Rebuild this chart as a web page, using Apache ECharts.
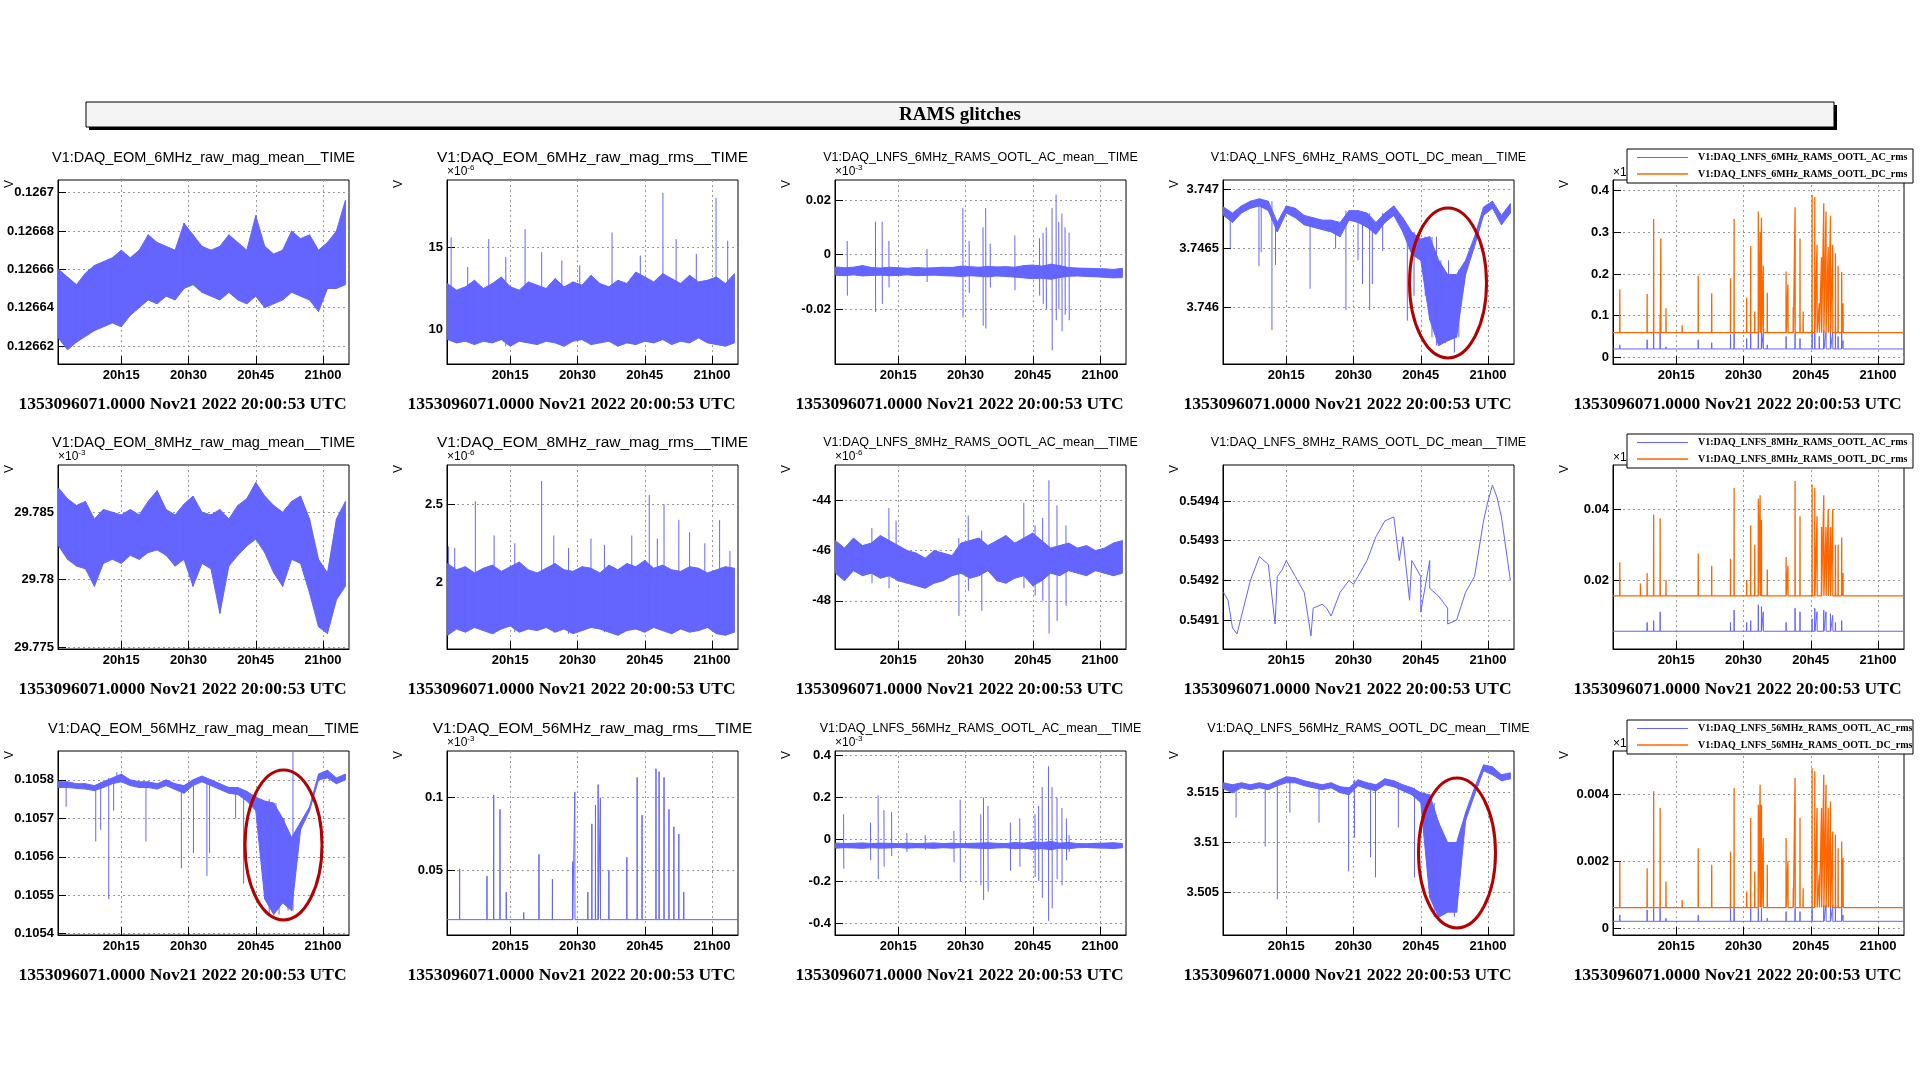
<!DOCTYPE html>
<html><head><meta charset="utf-8">
<script src="https://cdn.jsdelivr.net/npm/echarts@6/dist/echarts.min.js"></script>
<style>html,body{margin:0;padding:0;background:#fff}#c{width:1920px;height:1080px}</style>
</head><body><div id="c"></div>
<script>
// ---- time axis (minutes after 20:00 UTC) ----
const timeTicks = [15, 30, 45, 60];
const timeLabels = ['20h15', '20h30', '20h45', '21h00'];
const footerText = '1353096071.0000 Nov21 2022 20:00:53 UTC';
const mainTitle = 'RAMS glitches';
const titles = [
 'V1:DAQ_EOM_6MHz_raw_mag_mean__TIME','V1:DAQ_EOM_6MHz_raw_mag_rms__TIME','V1:DAQ_LNFS_6MHz_RAMS_OOTL_AC_mean__TIME','V1:DAQ_LNFS_6MHz_RAMS_OOTL_DC_mean__TIME','',
 'V1:DAQ_EOM_8MHz_raw_mag_mean__TIME','V1:DAQ_EOM_8MHz_raw_mag_rms__TIME','V1:DAQ_LNFS_8MHz_RAMS_OOTL_AC_mean__TIME','V1:DAQ_LNFS_8MHz_RAMS_OOTL_DC_mean__TIME','',
 'V1:DAQ_EOM_56MHz_raw_mag_mean__TIME','V1:DAQ_EOM_56MHz_raw_mag_rms__TIME','V1:DAQ_LNFS_56MHz_RAMS_OOTL_AC_mean__TIME','V1:DAQ_LNFS_56MHz_RAMS_OOTL_DC_mean__TIME',''];
const legendNames = [
 ['V1:DAQ_LNFS_6MHz_RAMS_OOTL_AC_rms','V1:DAQ_LNFS_6MHz_RAMS_OOTL_DC_rms'],
 ['V1:DAQ_LNFS_8MHz_RAMS_OOTL_AC_rms','V1:DAQ_LNFS_8MHz_RAMS_OOTL_DC_rms'],
 ['V1:DAQ_LNFS_56MHz_RAMS_OOTL_AC_rms','V1:DAQ_LNFS_56MHz_RAMS_OOTL_DC_rms']];
const exponents = ['', '-6', '-3', '', '', '-3', '-6', '-6', '', '', '', '-3', '-3', '', ''];
const yTicks = [
 [0.12662,0.12664,0.12666,0.12668,0.1267],[10,15],[-0.02,0,0.02],[3.746,3.7465,3.747],[0,0.1,0.2,0.3,0.4],
 [29.775,29.78,29.785],[2,2.5],[-48,-46,-44],[0.5491,0.5492,0.5493,0.5494],[0.02,0.04],
 [0.1054,0.1055,0.1056,0.1057,0.1058],[0.05,0.1],[-0.4,-0.2,0,0.2,0.4],[3.505,3.51,3.515],[0,0.002,0.004]];

// ---- values, sampled every 2 min (t = 1,3,...,65): upper/lower envelope ----
const p1Hi=[0.126660,0.126656,0.126652,0.126658,0.126662,0.126664,0.126666,0.126670,0.126666,0.126670,0.126678,0.126674,0.126672,0.126670,0.126684,0.126678,0.126672,0.126670,0.126672,0.126678,0.126674,0.126670,0.126688,0.126672,0.126668,0.126670,0.126680,0.126676,0.126678,0.126670,0.126674,0.126680,0.126696];
const p1Lo=[0.126624,0.126618,0.126622,0.126625,0.126628,0.126630,0.126632,0.126630,0.126636,0.126640,0.126644,0.126642,0.126646,0.126644,0.126650,0.126652,0.126648,0.126646,0.126644,0.126648,0.126644,0.126642,0.126646,0.126640,0.126642,0.126644,0.126648,0.126646,0.126644,0.126638,0.126650,0.126650,0.126652];
const p2Hi=[12.8,12.4,12.6,13.0,12.5,12.8,13.2,12.6,12.4,12.9,12.7,12.5,13.1,12.6,12.9,12.7,13.3,12.8,12.6,13.0,12.8,13.5,13.2,12.9,13.4,13.1,12.8,13.3,12.9,13.0,13.2,12.8,13.4];
const p2Lo=[9.4,9.2,9.3,9.1,9.3,9.2,9.4,9.0,9.3,9.2,9.1,9.3,9.2,9.0,9.3,9.4,9.1,9.2,9.3,9.0,9.2,9.1,9.3,9.2,9.4,9.1,9.3,9.2,9.5,9.2,9.1,9.0,9.2];
const p2Peaks=[[1.8,15.6],[5.5,13.8],[10.2,15.5],[14,14.4],[18.3,16.1],[22,14.7],[26.5,14.2],[30.5,13.9],[37.7,15.9],[44,14.5],[49.05,18.3],[52,15.5],[56.5,14.6],[60.9,18.0],[63.5,15.4]];
const p3Hi=[-0.0045,-0.0048,-0.0046,-0.0040,-0.0047,-0.0049,-0.0046,-0.0048,-0.0050,-0.0047,-0.0049,-0.0048,-0.0046,-0.0047,-0.0042,-0.0044,-0.0046,-0.0043,-0.0045,-0.0044,-0.0046,-0.0040,-0.0038,-0.0042,-0.0035,-0.0040,-0.0047,-0.0049,-0.0050,-0.0051,-0.0052,-0.0054,-0.0050];
const p3Lo=[-0.0075,-0.0077,-0.0074,-0.0078,-0.0076,-0.0075,-0.0077,-0.0076,-0.0074,-0.0077,-0.0076,-0.0075,-0.0077,-0.0078,-0.0080,-0.0077,-0.0079,-0.0081,-0.0078,-0.0080,-0.0082,-0.0085,-0.0088,-0.0086,-0.0090,-0.0084,-0.0079,-0.0078,-0.0080,-0.0081,-0.0083,-0.0085,-0.0084];
const p3Glitch=[[3.6,0.005,-0.015],[9.9,0.012,-0.021],[11.4,0.012,-0.018],[12.9,0.005,-0.012],[21.4,0.002,-0.010],[29.4,0.017,-0.023],[30.8,0.005,-0.014],[33.9,0.010,-0.026],[34.5,0.017,-0.027],[35.5,0.004,-0.012],[41,0.007,-0.013],[46.5,0.006,-0.015],[47.3,0.008,-0.018],[48,0.010,-0.020],[49.3,0.017,-0.035],[50.2,0.022,-0.024],[50.8,0.012,-0.020],[51.5,0.015,-0.028],[52.2,0.010,-0.022],[53.1,0.008,-0.024]];
const p4Hi=[3.74685,3.74680,3.74686,3.74690,3.74692,3.74690,3.74672,3.74686,3.74684,3.74678,3.74676,3.74674,3.74674,3.74672,3.74682,3.74682,3.74680,3.74672,3.74680,3.74686,3.74676,3.74664,3.74658,3.74660,3.74640,3.74628,3.74628,3.74640,3.74660,3.74685,3.74690,3.74678,3.74688];
const p4Lo=[3.74678,3.74672,3.74680,3.74684,3.74686,3.74682,3.74664,3.74680,3.74676,3.74670,3.74668,3.74666,3.74664,3.74660,3.74674,3.74672,3.74668,3.74662,3.74672,3.74678,3.74664,3.74645,3.74640,3.74590,3.74568,3.74572,3.74575,3.74628,3.74652,3.74678,3.74684,3.74670,3.74680];
const p4Peaks=[[2.5,3.7465],[8.9,3.74635],[9.4,3.74647],[11.8,3.74581],[12.6,3.74636],[20.3,3.74616],[26,3.74650],[28.3,3.74598],[31,3.74640],[32,3.74620],[33.6,3.74598],[34.2,3.74620],[36.5,3.74648],[42,3.74589],[43.5,3.74610],[46,3.74610],[47.5,3.74575],[48.5,3.74660],[49.5,3.74600],[50.5,3.74570],[51.2,3.74640],[52.5,3.74562],[53.5,3.74632]];
const acBase=[0.020,0.0055,0.00021];
const dcBase=[0.059,0.0155,0.00062];
const ac1Peaks=[[2.4,0.03],[8.5,0.042],[9.95,0.058],[11.4,0.058],[12.7,0.025],[19.9,0.042],[22.9,0.035],[27.1,0.055],[27.9,0.058],[30.7,0.045],[31.6,0.058],[33.3,0.06],[34,0.06],[34.4,0.058],[35.3,0.03],[39.5,0.05],[41.5,0.058],[42.6,0.045],[45.3,0.06],[45.9,0.058],[46.9,0.05],[47.9,0.065],[48.4,0.06],[49.4,0.068],[49.9,0.06],[50.5,0.058],[51.1,0.05],[51.9,0.058],[52.2,0.04]];
const dc1Peaks=[[2.4,0.163],[8.5,0.152],[9.95,0.332],[11.4,0.1],[11.55,0.286],[12.7,0.118],[16.3,0.077],[19.9,0.196],[22.9,0.154],[27.1,0.19],[27.9,0.332],[30.7,0.143],[31.6,0.267],[32.5,0.11],[33.3,0.35],[33.7,0.3],[34.0,0.335],[34.4,0.22],[35.3,0.155],[39.5,0.206],[39.9,0.175],[41.1,0.12],[41.5,0.36],[42.6,0.285],[43.3,0.11],[45.3,0.39],[45.9,0.385],[46.4,0.27],[46.9,0.13],[47.4,0.24],[47.9,0.37],[48.4,0.35],[48.9,0.265],[49.4,0.34],[49.9,0.27],[50.5,0.25],[51.1,0.22],[51.9,0.205],[52.2,0.13]];
const p6Hi=[29.7868,29.7860,29.7855,29.7858,29.7845,29.7852,29.7850,29.7848,29.7852,29.7848,29.7858,29.7866,29.7852,29.7848,29.7856,29.7862,29.7850,29.7848,29.7852,29.7845,29.7855,29.7860,29.7872,29.7862,29.7855,29.7850,29.7858,29.7862,29.7845,29.7815,29.7805,29.7845,29.7858];
const p6Lo=[29.7825,29.7815,29.7810,29.7808,29.7795,29.7812,29.7815,29.7812,29.7818,29.7815,29.7820,29.7822,29.7818,29.7810,29.7815,29.7795,29.7812,29.7808,29.7775,29.7810,29.7818,29.7825,29.7830,29.7820,29.7805,29.7795,29.7815,29.7812,29.7790,29.7765,29.7760,29.7785,29.7795];
const p7Hi=[2.12,2.08,2.10,2.06,2.09,2.11,2.07,2.10,2.13,2.08,2.06,2.09,2.12,2.08,2.07,2.10,2.09,2.06,2.11,2.08,2.12,2.10,2.14,2.09,2.11,2.08,2.07,2.10,2.09,2.06,2.08,2.10,2.09];
const p7Lo=[1.66,1.70,1.68,1.71,1.69,1.67,1.70,1.72,1.68,1.70,1.69,1.71,1.68,1.70,1.67,1.69,1.71,1.70,1.68,1.66,1.69,1.70,1.68,1.71,1.69,1.67,1.70,1.68,1.69,1.71,1.67,1.66,1.68];
const p7Peaks=[[1.2,2.23],[2.6,2.22],[7.2,2.52],[11.4,2.30],[16,2.25],[22,2.65],[24.7,2.30],[28,2.22],[33,2.28],[36,2.24],[42.1,2.30],[46,2.56],[47.8,2.28],[49.3,2.50],[52.6,2.40],[55,2.32],[58.4,2.25],[61.7,2.40],[64,2.2]];
const p8Hi=[-45.6,-45.9,-45.5,-45.8,-45.7,-45.4,-45.6,-45.8,-46.0,-46.1,-46.3,-46.0,-46.1,-46.2,-45.7,-45.6,-45.5,-45.8,-45.6,-45.4,-45.7,-45.5,-45.3,-45.6,-45.9,-45.8,-45.7,-45.9,-45.8,-46.0,-45.9,-45.7,-45.6];
const p8Lo=[-46.9,-47.2,-46.8,-47.0,-46.9,-47.1,-47.0,-47.2,-47.3,-47.4,-47.5,-47.3,-47.2,-47.0,-46.9,-47.1,-47.0,-46.8,-47.2,-47.3,-47.1,-47.0,-47.4,-47.2,-46.9,-47.0,-46.8,-46.9,-47.0,-46.8,-46.9,-47.0,-46.9];
const p8Glitch=[[9.1,-45.1,-47.3],[12.9,-44.3,-47.5],[14.5,-44.8,-47.2],[28.5,-45.5,-48.6],[30.6,-44.6,-47.6],[33.6,-45.2,-48.4],[43,-44.1,-47.5],[45.5,-45.0,-47.8],[47.2,-44.7,-48.0],[48.6,-43.2,-49.3],[50.4,-44.2,-48.8],[52.4,-45.0,-48.2]];
const p9Line=[0.549170,0.549080,0.549110,0.549200,0.549260,0.549240,0.549210,0.549250,0.549210,0.549170,0.549130,0.549140,0.549110,0.549170,0.549200,0.549210,0.549250,0.549310,0.549350,0.549360,0.549310,0.549250,0.549210,0.549250,0.549160,0.549130,0.549100,0.549170,0.549210,0.549350,0.549440,0.549360,0.549200];
const p9Peaks=[[2,0.549150],[4,0.549065],[12.5,0.54909],[14,0.549225],[20.5,0.54906],[24,0.549130],[30,0.549190],[36,0.549330],[40.2,0.54925],[42.5,0.54915],[45,0.54912],[47,0.54918],[51,0.54909],[60,0.549400],[62,0.549410]];
const p10Hi=[0.105795,0.105795,0.105790,0.105790,0.105785,0.105795,0.105805,0.105815,0.105800,0.105795,0.105795,0.105790,0.105800,0.105790,0.105785,0.105800,0.105810,0.105800,0.105790,0.105780,0.105780,0.105770,0.105755,0.105745,0.105740,0.105700,0.105650,0.105690,0.105730,0.105815,0.105825,0.105805,0.105815];
const p10Lo=[0.105780,0.105780,0.105778,0.105776,0.105772,0.105780,0.105790,0.105795,0.105785,0.105780,0.105780,0.105776,0.105785,0.105775,0.105765,0.105785,0.105795,0.105785,0.105775,0.105765,0.105762,0.105745,0.105720,0.105490,0.105450,0.105480,0.105460,0.105670,0.105720,0.105800,0.105805,0.105790,0.105800];
const p10Peaks=[[2.7,0.10573],[9.3,0.10564],[10.4,0.10567],[12.2,0.10549],[13.3,0.10572],[14,0.10582],[20.5,0.10564],[28.4,0.10557],[31.1,0.10561],[34.1,0.10555],[34.7,0.10561],[40.5,0.10570],[42.3,0.10553],[46.2,0.10560],[48,0.10575],[48.5,0.10548],[49.5,0.10570],[50.2,0.10545],[51.3,0.10562],[52.2,0.10546],[53.3,0.10620]];
const p11Base=0.016;
const p11Peaks=[[3.7,0.051],[9.8,0.046],[11.3,0.102],[12.7,0.092],[14.1,0.035],[18,0.021],[21.4,0.061],[24.4,0.044],[28.9,0.056],[29.4,0.104],[32.3,0.035],[33.2,0.082],[34,0.095],[34.6,0.109],[35.1,0.1],[37,0.05],[41,0.059],[43.3,0.114],[44.4,0.088],[47.5,0.12],[48.2,0.118],[49.3,0.114],[50.4,0.092],[51.5,0.08],[52.6,0.075],[53.7,0.035]];
const p12Hi=[-0.018,-0.020,-0.019,-0.017,-0.020,-0.018,-0.019,-0.021,-0.018,-0.020,-0.019,-0.017,-0.020,-0.018,-0.021,-0.019,-0.018,-0.016,-0.019,-0.020,-0.015,-0.018,-0.012,-0.016,-0.010,-0.018,-0.015,-0.020,-0.021,-0.019,-0.018,-0.016,-0.020];
const p12Lo=[-0.042,-0.040,-0.041,-0.043,-0.040,-0.042,-0.041,-0.039,-0.042,-0.040,-0.041,-0.043,-0.040,-0.042,-0.039,-0.041,-0.042,-0.044,-0.041,-0.040,-0.045,-0.042,-0.048,-0.044,-0.050,-0.042,-0.045,-0.040,-0.039,-0.041,-0.042,-0.044,-0.040];
const p12Glitch=[[2.8,0.12,-0.14],[8.8,0.08,-0.10],[10.5,0.21,-0.19],[11.8,0.14,-0.13],[13.5,0.13,-0.08],[16.9,0.03,-0.06],[21,0.02,-0.05],[27.4,0.04,-0.11],[28.8,0.19,-0.20],[33.4,0.12,-0.22],[34,0.20,-0.29],[35,0.16,-0.25],[40,0.08,-0.15],[42.1,0.10,-0.13],[45.5,0.12,-0.18],[46.3,0.16,-0.2],[47.1,0.25,-0.28],[48.5,0.35,-0.39],[49.3,0.25,-0.33],[50.4,0.20,-0.19],[51.5,0.15,-0.22],[52.5,0.10,-0.10],[53.1,0.02,-0.06]];
const p13Hi=[3.5160,3.5158,3.5160,3.5158,3.5160,3.5158,3.5162,3.5166,3.5165,3.5162,3.5160,3.5158,3.5160,3.5156,3.5155,3.5163,3.5160,3.5158,3.5164,3.5162,3.5158,3.5155,3.5150,3.5148,3.5120,3.5100,3.5100,3.5130,3.5155,3.5178,3.5176,3.5168,3.5170];
const p13Lo=[3.5154,3.5150,3.5155,3.5153,3.5155,3.5153,3.5157,3.5160,3.5160,3.5157,3.5155,3.5153,3.5155,3.5150,3.5148,3.5157,3.5154,3.5152,3.5158,3.5156,3.5152,3.5148,3.5140,3.5045,3.5025,3.5030,3.5030,3.5122,3.5148,3.5172,3.5168,3.5162,3.5164];
const p13Peaks=[[3.8,3.5125],[10.3,3.5096],[13,3.5043],[15.8,3.5130],[22.3,3.5120],[28.9,3.5071],[30.2,3.5105],[33.8,3.5085],[34.9,3.5065],[40,3.5115],[43.6,3.5065],[46.5,3.5080],[48,3.5140],[50,3.5035],[51.5,3.5100],[52.5,3.5025],[53.5,3.5085]];
const ac3Peaks=[[2.4,0.0004],[8.5,0.00055],[9.95,0.0006],[11.4,0.0006],[12.7,0.0003],[19.9,0.0004],[27.1,0.0006],[27.9,0.0006],[31.6,0.0006],[33.3,0.0006],[34,0.0006],[35.3,0.0003],[39.5,0.0005],[41.5,0.0006],[42.6,0.0005],[45.3,0.0006],[47.9,0.0007],[48.4,0.0007],[49.4,0.00078],[49.9,0.0007],[50.5,0.0006],[51.9,0.0006],[52.2,0.0004]];
const dc3Peaks=[[2.4,0.002],[8.5,0.0018],[9.95,0.0041],[11.4,0.0036],[12.7,0.0014],[16.3,0.00085],[19.9,0.0024],[22.9,0.0019],[27.1,0.0023],[27.9,0.0042],[30.7,0.0011],[31.6,0.0033],[32.5,0.0017],[33.3,0.0037],[33.7,0.0043],[34.0,0.0037],[34.4,0.0027],[35.3,0.0019],[39.5,0.0027],[39.9,0.002],[41.1,0.0012],[41.5,0.0045],[42.6,0.0033],[43.3,0.0012],[45.3,0.0048],[45.9,0.0047],[46.4,0.0036],[46.9,0.0016],[47.4,0.0036],[47.9,0.0046],[48.4,0.0043],[48.9,0.0036],[49.4,0.0038],[49.9,0.0029],[50.5,0.0028],[51.1,0.0024],[51.9,0.0026],[52.2,0.0021]];
const ac2Peaks=[[8.5,0.008],[9.95,0.0085],[11.4,0.011],[27.1,0.008],[27.9,0.0115],[30.7,0.008],[31.6,0.0085],[33.3,0.013],[34,0.0125],[34.4,0.011],[39.5,0.008],[41.5,0.012],[42.6,0.011],[45.3,0.009],[45.9,0.012],[46.4,0.011],[47.9,0.0115],[48.4,0.011],[49.4,0.0105],[49.9,0.01],[50.5,0.008],[51.9,0.0085]];
const dc2Peaks=[[2.4,0.025],[7,0.019],[8.5,0.022],[9.95,0.0385],[11.4,0.0375],[12.7,0.02],[19.9,0.0275],[22.9,0.024],[27.1,0.026],[27.9,0.046],[30.7,0.02],[31.6,0.0355],[32.5,0.03],[33.3,0.043],[33.7,0.044],[34.0,0.037],[35.3,0.023],[39.5,0.0265],[39.9,0.024],[41.5,0.048],[42.6,0.038],[45.3,0.047],[45.9,0.046],[46.4,0.038],[47.4,0.035],[47.9,0.044],[48.4,0.035],[48.9,0.040],[49.4,0.035],[49.9,0.040],[50.5,0.03],[51.1,0.03],[51.9,0.032],[52.2,0.022]];

// ---- builders ----
const T0 = 0.88, T1 = 65.8;
const BLUE = '#6464ff', ORANGE = '#ff6600';
const sampleT = i => 1 + 2 * i;
function nearest(arr, t) { return arr[Math.max(0, Math.min(arr.length - 1, Math.round((t - 1) / 2)))]; }
function spikeSegs(hi, lo, peaks, glitch) {
  const pts = [];
  (peaks || []).forEach(p => { const from = p[1] > nearest(hi, p[0]) ? nearest(lo, p[0]) : nearest(hi, p[0]); pts.push([p[0], from], [p[0], p[1]], [p[0], '-']); });
  (glitch || []).forEach(g => { pts.push([g[0], g[1]], [g[0] + 0.04, g[2]], [g[0] + 0.04, '-']); });
  return pts.sort((a, b) => a[0] - b[0]);
}
function lineWithPeaks(vals, peaks) {
  const pts = vals.map((v, i) => [sampleT(i), v]);
  peaks.forEach(p => pts.push([p[0], p[1]]));
  return pts.sort((a, b) => a[0] - b[0]);
}
function spiky(level, peaks) {
  const pts = [[T0, level], [T1, level]];
  peaks.forEach(p => { pts.push([p[0] - 0.03, level], [p[0], p[1]], [p[0] + 0.03, level]); });
  return pts.sort((a, b) => a[0] - b[0]);
}
const panels = [
 {band:[p1Hi,p1Lo]}, {band:[p2Hi,p2Lo], peaks:p2Peaks}, {band:[p3Hi,p3Lo], glitch:p3Glitch}, {band:[p4Hi,p4Lo], peaks:p4Peaks},
 {lines:[[spiky(acBase[0],ac1Peaks),BLUE],[spiky(dcBase[0],dc1Peaks),ORANGE]]},
 {band:[p6Hi,p6Lo]}, {band:[p7Hi,p7Lo], peaks:p7Peaks}, {band:[p8Hi,p8Lo], glitch:p8Glitch}, {lines:[[lineWithPeaks(p9Line,p9Peaks),BLUE]]},
 {lines:[[spiky(acBase[1],ac2Peaks),BLUE],[spiky(dcBase[1],dc2Peaks),ORANGE]]},
 {band:[p10Hi,p10Lo], peaks:p10Peaks}, {lines:[[spiky(p11Base,p11Peaks),BLUE]]}, {band:[p12Hi,p12Lo], glitch:p12Glitch}, {band:[p13Hi,p13Lo], peaks:p13Peaks},
 {lines:[[spiky(acBase[2],ac3Peaks),BLUE],[spiky(dcBase[2],dc3Peaks),ORANGE]]}];
const yRange = [
 [0.1266106,0.1267066],[7.92,19.08],[-0.04,0.0273],[3.745524,3.747079],[-0.0161,0.4257],
 [29.77485,29.7885],[1.572,2.752],[-49.92,-42.59],[0.549027,0.549491],[0.00048,0.05253],
 [0.1053966,0.105875],[0.00544,0.1322],[-0.4574,0.4225],[3.50071,3.51919],[-0.0002,0.005308]];

// ---- layout ----
const colL = [58, 447, 835, 1223, 1613], rowT = [180, 465, 751], PW = 291, PH = 184;
const titleSize = [14.5, 15.5, 12.5, 12.5, 12];
const fmt = v => String(parseFloat(Number(v).toPrecision(8)));
const grids = [], xAxes = [], yAxes = [], series = [], graphics = [];
const lab = { color: '#000', fontFamily: 'Liberation Sans', fontWeight: 'bold', fontSize: 13 };

graphics.push({ type: 'rect', shape: { x: 89, y: 105, width: 1748, height: 25 }, style: { fill: '#000' }, silent: true });
graphics.push({ type: 'rect', shape: { x: 86, y: 102, width: 1748, height: 25 }, style: { fill: '#f4f4f4', stroke: '#000', lineWidth: 1 }, silent: true });
graphics.push({ type: 'text', x: 960, y: 115, style: { text: mainTitle, fill: '#000', font: 'bold 19px "Liberation Serif"', textAlign: 'center', textVerticalAlign: 'middle' } });

const common = { type: 'line', showSymbol: false, silent: true, animation: false, clip: true, sampling: false };
function bandRenderer(hi, lo) {
  return function (params, api) {
    const k = params.dataIndex;
    if (k >= hi.length - 1) return null;
    const a = api.coord([sampleT(k), hi[k]]), b = api.coord([sampleT(k + 1), hi[k + 1]]);
    const cc = api.coord([sampleT(k + 1), lo[k + 1]]), d = api.coord([sampleT(k), lo[k]]);
    return { type: 'polygon', shape: { points: [a, b, cc, d] }, style: { fill: BLUE, stroke: BLUE, lineWidth: 1 } };
  };
}
for (let r = 0; r < 3; r++) for (let c = 0; c < 5; c++) {
  const i = r * 5 + c, L = colL[c], T = rowT[r];
  grids.push({ left: L, top: T, width: PW, height: PH, show: true, borderColor: '#000', borderWidth: 1, backgroundColor: 'transparent' });
  xAxes.push({ type: 'value', gridIndex: i, min: T0, max: T1,
    axisLine: { show: true, onZero: false, lineStyle: { color: '#000' } },
    axisTick: { show: true, inside: true, length: 8, customValues: timeTicks, lineStyle: { color: '#000' } },
    axisLabel: { ...lab, margin: 5, customValues: timeTicks, formatter: v => timeLabels[timeTicks.indexOf(v)] || '' },
    splitLine: { show: true, lineStyle: { color: '#999', type: [2, 3], width: 1 } } });
  yAxes.push({ type: 'value', gridIndex: i, min: yRange[i][0], max: yRange[i][1],
    axisLine: { show: true, onZero: false, lineStyle: { color: '#000' } },
    axisTick: { show: true, inside: true, length: 8, customValues: yTicks[i], lineStyle: { color: '#000' } },
    axisLabel: { ...lab, margin: 4, customValues: yTicks[i], formatter: v => fmt(v) },
    splitLine: { show: true, lineStyle: { color: '#999', type: [2, 3], width: 1 } } });
  const P = panels[i];
  if (P.band) {
    const hi = P.band[0], lo = P.band[1];
    series.push({ type: 'custom', xAxisIndex: i, yAxisIndex: i, clip: true, silent: true, animation: false,
      data: hi.map((v, k) => [sampleT(k), v, lo[k]]), encode: { x: 0, y: [1, 2] }, renderItem: bandRenderer(hi, lo) });
    if (P.peaks || P.glitch) series.push({ ...common, xAxisIndex: i, yAxisIndex: i, connectNulls: false,
      data: spikeSegs(hi, lo, P.peaks, P.glitch), lineStyle: { width: 1, color: BLUE } });
  }
  (P.lines || []).forEach(s => series.push({ ...common, xAxisIndex: i, yAxisIndex: i, data: s[0],
    lineStyle: { color: s[1], width: s[1] === ORANGE ? 1.3 : 1 }, itemStyle: { color: s[1] } }));
  if (titles[i]) graphics.push({ type: 'text', x: L + PW / 2, y: T - 22, style: { text: titles[i], fill: '#000', font: titleSize[c] + 'px "Liberation Sans"', textAlign: 'center', textVerticalAlign: 'middle' } });
  graphics.push({ type: 'text', x: L - 48, y: T + 4, rotation: Math.PI / 2, style: { text: 'V', fill: '#000', font: '12px "Liberation Sans"', textAlign: 'center', textVerticalAlign: 'middle' } });
  const ex = c === 4 ? '' : exponents[i];
  if (ex) graphics.push({ type: 'text', x: L, y: T - 8, style: { text: '×10{s|' + ex + '}', fill: '#000', font: '12px "Liberation Sans"', textVerticalAlign: 'middle', rich: { s: { fontSize: 8, verticalAlign: 'top', padding: [0, 0, 8, 0], fontFamily: 'Liberation Sans' } } } });
  if (c === 4) graphics.push({ type: 'text', x: L, y: T - 7, style: { text: '×10', fill: '#000', font: '12px "Liberation Sans"', textVerticalAlign: 'middle' } });
  graphics.push({ type: 'text', x: L + PW / 2 - 21, y: T + 224, style: { text: footerText, fill: '#000', font: 'bold 17.5px "Liberation Serif"', textAlign: 'center', textVerticalAlign: 'middle' } });
}
const legY = [149, 434, 720];
legY.forEach((y, r) => {
  graphics.push({ type: 'rect', z: 50, shape: { x: 1627, y: y, width: 286, height: 34 }, style: { fill: '#fff', stroke: '#000', lineWidth: 1 } });
  [BLUE, ORANGE].forEach((col, k) => {
    const ly = y + 8.5 + k * 16.5;
    graphics.push({ type: 'line', z: 51, shape: { x1: 1637, y1: ly, x2: 1688, y2: ly }, style: { stroke: col, lineWidth: k ? 1.5 : 1 } });
    graphics.push({ type: 'text', z: 51, x: 1698, y: ly, style: { text: legendNames[r][k], fill: '#000', font: 'bold 10px "Liberation Serif"', textVerticalAlign: 'middle' } });
  });
});
[[1448, 283], [283.5, 845], [1457, 853]].forEach(p => graphics.push({ type: 'ellipse', z: 60, shape: { cx: p[0], cy: p[1], rx: 38.5, ry: 75 }, style: { fill: 'none', stroke: '#b30000', lineWidth: 3 } }));

const chart = echarts.init(document.getElementById('c'), null, { renderer: 'canvas' });
chart.setOption({ animation: false, backgroundColor: '#fff', grid: grids, xAxis: xAxes, yAxis: yAxes, series: series, graphic: graphics });
</script></body></html>
